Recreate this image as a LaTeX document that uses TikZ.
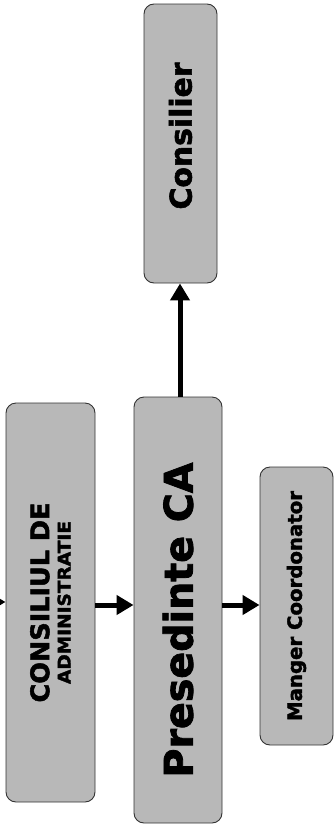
\documentclass[tikz,border=0pt]{standalone}
\usepackage{fontspec}
\usepackage{graphicx}
\setsansfont{DejaVu Sans}[BoldFeatures={FakeBold=2}]
\usetikzlibrary{arrows.meta}
\definecolor{boxgray}{gray}{0.72}
\definecolor{edgegray}{gray}{0.2}
\begin{document}
\begin{tikzpicture}[x=1pt,y=-1pt,
  box/.style={draw=edgegray, line width=0.9pt, fill=boxgray, rounded corners=10pt,
              inner sep=0pt, font=\sffamily\bfseries},
  arr/.style={line width=5pt, -{Triangle[length=17pt,width=19pt]}}]
\useasboundingbox (0,0) rectangle (334,825);
\node[box, minimum width=89pt, minimum height=399pt] (cons) at (50.5,602.5)
  {\rotatebox{90}{\vbox{\offinterlineskip
     \hbox to 200pt{\hss\resizebox{200pt}{19pt}{CONSILIUL DE}\hss}
     \vskip8pt
     \hbox to 200pt{\hss\resizebox{163pt}{13pt}{ADMINISTRATIE}\hss}}}};
\node[box, minimum width=88pt, minimum height=426pt] (pres) at (178,610)
  {\rotatebox{90}{\hspace{-20pt}\resizebox{315pt}{!}{Presedinte CA}}};
\node[box, minimum width=73pt, minimum height=279pt] (csl) at (180.5,143.5)
  {\rotatebox{90}{\resizebox{147pt}{!}{Consilier}\hspace{-15pt}}};
\node[box, minimum width=73pt, minimum height=278pt] (mgr) at (296.5,606)
  {\rotatebox{90}{\resizebox{230pt}{!}{Manger Coordonator}}};
\coordinate (in) at (-20,602);
\coordinate (r1) at (0,605);
\coordinate (u) at (180,0);
\draw[arr] (in) -- (cons.west |- in);
\draw[arr] (cons.east |- r1) -- (pres.west |- r1);
\draw[arr] (pres.east |- r1) -- (mgr.west |- r1);
\draw[arr] (pres.north -| u) -- (csl.south -| u);
\end{tikzpicture}
\end{document}
